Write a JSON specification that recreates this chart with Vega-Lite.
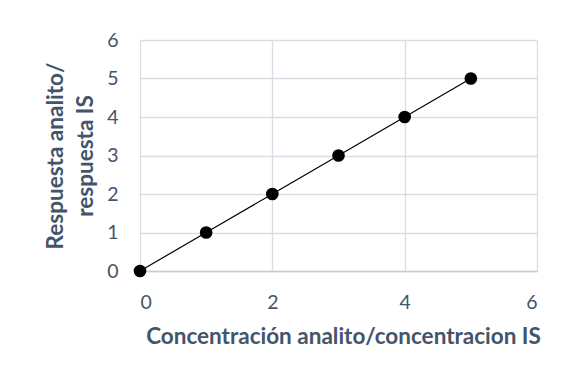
{
  "$schema": "https://vega.github.io/schema/vega-lite/v6.json",
  "width": 397,
  "height": 231,
  "autosize": "none",
  "padding": {"left": 140, "top": 40, "right": 30, "bottom": 110},
  "background": "white",
  "config": {
    "view": {"stroke": null},
    "font": "Lato"
  },
  "data": {
    "values": [
      {"conc": 0, "resp": 0},
      {"conc": 1, "resp": 1},
      {"conc": 2, "resp": 2},
      {"conc": 3, "resp": 3},
      {"conc": 4, "resp": 4},
      {"conc": 5, "resp": 5}
    ]
  },
  "encoding": {
    "x": {
      "field": "conc",
      "type": "quantitative",
      "scale": {"domain": [0, 6], "nice": false},
      "axis": {
        "values": [0, 2, 4, 6],
        "title": "Concentración analito/concentracion IS",
        "titleFont": "Lato",
        "titleFontSize": 22.5,
        "titleFontWeight": "bold",
        "titleColor": "#44546A",
        "titleX": 203,
        "titlePadding": 14,
        "labelFont": "Lato",
        "labelFontSize": 19.5,
        "labelColor": "#44546A",
        "labelPadding": 22,
        "ticks": false,
        "grid": true,
        "gridColor": "#D9DDE5",
        "gridWidth": 1.3,
        "domainColor": "#C5CAD4",
        "domainWidth": 1.5
      }
    },
    "y": {
      "field": "resp",
      "type": "quantitative",
      "scale": {"domain": [0, 6], "nice": false},
      "axis": {
        "values": [0, 1, 2, 3, 4, 5, 6],
        "title": ["Respuesta analito/", "respuesta IS"],
        "titleFont": "Lato",
        "titleFontSize": 22.5,
        "titleFontWeight": "bold",
        "titleColor": "#44546A",
        "titlePadding": 9,
        "titleLineHeight": 30,
        "labelFont": "Lato",
        "labelFontSize": 19.5,
        "labelColor": "#44546A",
        "labelPadding": 22,
        "ticks": false,
        "grid": true,
        "gridColor": "#D9DDE5",
        "gridWidth": 1.3,
        "domain": false
      }
    }
  },
  "layer": [
    {"mark": {"type": "line", "color": "black", "strokeWidth": 1.2}},
    {"mark": {"type": "point", "filled": true, "color": "black", "opacity": 1, "size": 160}}
  ]
}
